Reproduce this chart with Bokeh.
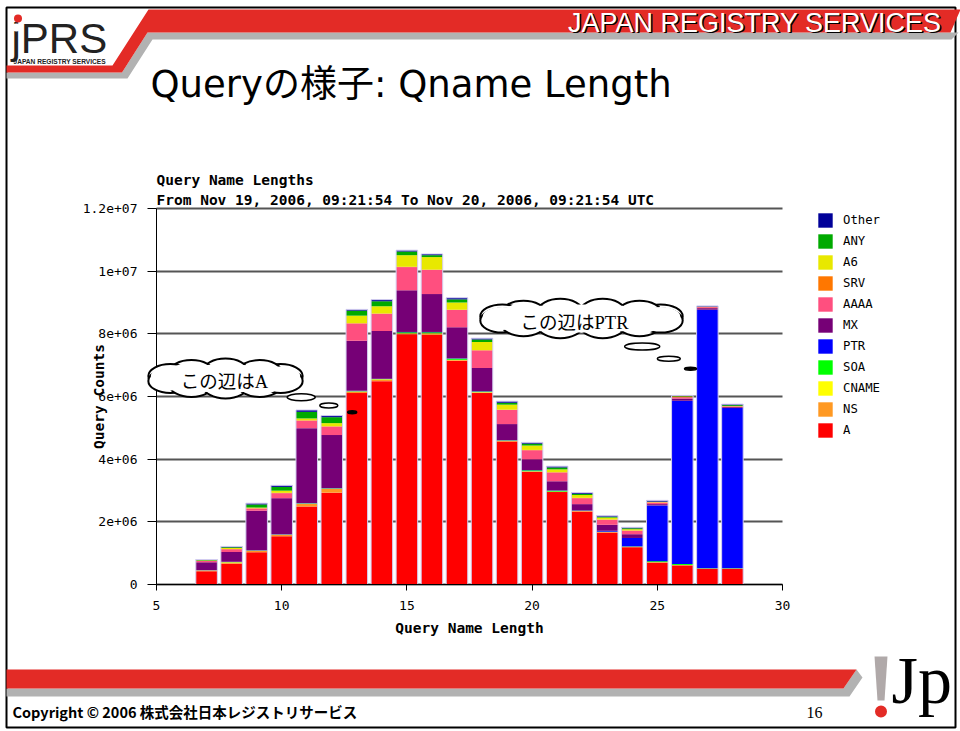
import numpy as np
from bokeh.plotting import figure
from bokeh.models import (Range1d, LinearAxis, FixedTicker, Grid, Legend, LegendItem,
                          ColumnDataSource)
from bokeh.core.properties import value
from bokeh.embed import file_html
from bokeh.resources import INLINE

# ---------------- data (values in millions of queries) ----------------
lengths = [7, 8, 9, 10, 11, 12, 13, 14, 15, 16, 17, 18, 19, 20, 21, 22, 23, 24, 25, 26, 27, 28]
types = ["A", "NS", "CNAME", "SOA", "PTR", "MX", "AAAA", "SRV", "A6", "ANY", "Other"]
colors = ["#ff0000", "#ff9922", "#ffff00", "#00ff00", "#0000ff", "#760076",
          "#ff4f7f", "#ff7700", "#e8e800", "#00aa00", "#000099"]

A_vals = [0.42, 0.66, 1.03, 1.54, 2.49, 2.93, 6.11, 6.49, 7.99, 7.97, 7.14, 6.11, 4.56, 3.60, 2.95, 2.33, 1.66, 1.19, 0.70, 0.61, 0.50, 0.50]
NS_vals = [0.03, 0.04, 0.04, 0.04, 0.08, 0.12, 0.04, 0.05, 0.02, 0.04, 0.02, 0.02, 0.02, 0.01, 0.01, 0.01, 0.01, 0.01, 0.01, 0.01, 0.005, 0.005]
CNAME_vals = [0.005, 0.01, 0.01, 0.01, 0.01, 0.01, 0.01, 0.01, 0.01, 0.01, 0.01, 0.01, 0.01, 0.005, 0.005, 0.005, 0.005, 0.005, 0.005, 0.005, 0.005, 0.005]
SOA_vals = [0.003, 0.005, 0.005, 0.005, 0.01, 0.01, 0.01, 0.01, 0.03, 0.03, 0.04, 0.02, 0.01, 0.03, 0.03, 0.01, 0.01, 0.01, 0.03, 0.03, 0.01, 0.01]
PTR_vals = [0.005, 0.01, 0.01, 0.01, 0.01, 0.01, 0.01, 0.01, 0.01, 0.01, 0.01, 0.01, 0.01, 0.01, 0.01, 0.01, 0.03, 0.27, 1.78, 5.21, 8.25, 5.11]
MX_vals = [0.25, 0.31, 1.26, 1.15, 2.39, 1.69, 1.60, 1.52, 1.33, 1.21, 0.99, 0.74, 0.51, 0.34, 0.29, 0.20, 0.19, 0.12, 0.04, 0.07, 0.05, 0.03]
AAAA_vals = [0.04, 0.09, 0.07, 0.16, 0.24, 0.27, 0.55, 0.55, 0.74, 0.77, 0.55, 0.56, 0.45, 0.29, 0.28, 0.19, 0.16, 0.11, 0.05, 0.04, 0.03, 0.02]
SRV_vals = [0.005, 0.01, 0.01, 0.01, 0.01, 0.01, 0.01, 0.01, 0.01, 0.01, 0.01, 0.01, 0.01, 0.01, 0.01, 0.01, 0.01, 0.01, 0.01, 0.02, 0.01, 0.01]
A6_vals = [0.01, 0.03, 0.02, 0.07, 0.06, 0.10, 0.24, 0.23, 0.37, 0.40, 0.23, 0.26, 0.16, 0.14, 0.09, 0.09, 0.06, 0.04, 0.01, 0.01, 0.005, 0.005]
ANY_vals = [0.01, 0.02, 0.10, 0.12, 0.21, 0.19, 0.16, 0.16, 0.12, 0.06, 0.10, 0.08, 0.06, 0.06, 0.06, 0.04, 0.03, 0.03, 0.01, 0.01, 0.005, 0.03]
Other_vals = [0.02, 0.03, 0.04, 0.05, 0.06, 0.05, 0.04, 0.05, 0.04, 0.04, 0.05, 0.04, 0.05, 0.04, 0.04, 0.04, 0.03, 0.03, 0.04, 0.02, 0.02, 0.03]

series = [A_vals, NS_vals, CNAME_vals, SOA_vals, PTR_vals, MX_vals, AAAA_vals,
          SRV_vals, A6_vals, ANY_vals, Other_vals]

xtick_values = [5, 10, 15, 20, 25, 30]
ytick_values = [0, 2000000, 4000000, 6000000, 8000000, 10000000, 12000000]
ytick_labels = ["0", "2e+06", "4e+06", "6e+06", "8e+06", "1e+07", "1.2e+07"]

chart_title = "Query Name Lengths"
chart_subtitle = "From Nov 19, 2006, 09:21:54 To Nov 20, 2006, 09:21:54 UTC"
x_label = "Query Name Length"
y_label = "Query Counts"
slide_title = "Queryの様子: Qname Length"
header_text = "JAPAN REGISTRY SERVICES"
logo_text = "jPRS"
logo_sub = "JAPAN REGISTRY SERVICES"
note_a = "この辺はA"
note_ptr = "この辺はPTR"
copyright_text = "Copyright © 2006 株式会社日本レジストリサービス"
page_number = "16"
jp_text = "Jp"

# ---------------- layout (page pixels -> figure pixels) ----------------
W, H = 960, 731


def X(px):
    return px


def Y(py):
    return H - py


p = figure(width=W, height=H, x_range=Range1d(0, W), y_range=Range1d(0, H),
           x_axis_type=None, y_axis_type=None, toolbar_location=None,
           output_backend="svg", min_border=0, title=None)
p.outline_line_color = None
p.background_fill_color = "white"
p.border_fill_color = "white"

# chart coordinate system mapped onto the page
PX5, PX30, PY0, PYTOP = 156, 782, 584, 208
sx = (30 - 5) / (PX30 - PX5)
sy = 12000000 / (PY0 - PYTOP)
p.extra_x_ranges = {"qx": Range1d(5 - X(PX5) * sx, 30 + (W - X(PX30)) * sx)}
p.extra_y_ranges = {"qy": Range1d(0 - Y(PY0) * sy, 12000000 + (H - Y(PYTOP)) * sy)}


def T(xp, yp, txt, font, size, style="normal", color="black", align="left",
      baseline="middle", angle=0.0, level="glyph"):
    p.text(x=[X(xp)], y=[Y(yp)], text=[txt], text_font=value(font), text_font_size=size,
           text_font_style=style, text_color=color, text_align=align,
           text_baseline=baseline, angle=angle, level=level)


def poly(pts, color, level="glyph"):
    p.patch([X(a) for a, b in pts], [Y(b) for a, b in pts], fill_color=color,
            line_color=None, level=level)


# ---------------- slide decoration ----------------
# slide frame
p.quad(left=[X(6)], right=[X(955)], bottom=[Y(727)], top=[Y(7)], fill_color=None,
       line_color="black", line_width=2)

poly([(6, 72), (121.5, 72), (147, 32), (958, 32), (951, 39), (152, 39), (127, 78), (6, 78)], "#b2b2b2")
poly([(6, 65), (112, 65), (148, 9), (960, 9), (950, 32), (147, 32), (121.5, 72), (6, 72)], "#e32b26")
T(942.5, 23.5, header_text, "Liberation Sans", "27px", color="black", align="right")
T(941, 22, header_text, "Liberation Sans", "27px", color="white", align="right")

T(11, 38, logo_text, "Liberation Sans", "42px", color="#222222")
p.ellipse(x=[X(15.8)], y=[Y(27)], width=8, height=8, fill_color="white", line_color=None)
p.ellipse(x=[X(17.5)], y=[Y(18)], width=8, height=8, fill_color="#e32b26", line_color=None)
T(13, 61, logo_sub, "Liberation Sans", "6.6px", style="bold", color="#222222")

T(150, 84, slide_title, "DejaVu Sans, Noto Sans CJK JP", "37px")

# footer
poly([(6, 688), (843, 688), (856, 669), (862, 677), (849, 696), (6, 696)], "#b2b2b2")
poly([(6, 669), (856, 669), (843, 688), (6, 688)], "#e32b26")
poly([(874, 656), (887, 656), (884, 700), (877, 700)], "#b0a9a9")
p.ellipse(x=[X(880.5)], y=[Y(711)], width=12, height=12, fill_color="#e32b26", line_color=None)
T(891, 679, jp_text, "Liberation Serif", "68px")
T(12, 711, copyright_text, "Noto Sans CJK JP", "14.5px", style="bold")
T(806, 712, page_number, "Liberation Serif", "16px")

# ---------------- chart ----------------
data = {"x": lengths}
for t, arr in zip(types, series):
    data[t] = [v * 1e6 for v in arr]
src = ColumnDataSource(data)

yticker = FixedTicker(ticks=ytick_values)
ygrid = Grid(dimension=1, ticker=yticker, x_range_name="qx", y_range_name="qy",
             cross_bounds=(5, 30), grid_line_color="#555555", grid_line_width=2)
p.add_layout(ygrid)

bars = p.vbar_stack(types, x="x", width=0.86, fill_color=colors, line_color=None,
                    source=src, x_range_name="qx", y_range_name="qy")
totals = (np.sum(np.array(series), axis=0) * 1e6).tolist()
p.vbar(x=lengths, top=totals, width=0.86, fill_color=None, line_color="#d4cef0",
       line_width=1, x_range_name="qx", y_range_name="qy")

outline = p.vbar(x=[], top=[], width=0.5, fill_color=None, line_color="#333333",
                 line_width=1, x_range_name="qx", y_range_name="qy")

xaxis = LinearAxis(x_range_name="qx", y_range_name="qy", fixed_location=0, bounds=(5, 30),
                   ticker=FixedTicker(ticks=xtick_values), axis_label=x_label)
yaxis = LinearAxis(x_range_name="qx", y_range_name="qy", fixed_location=5,
                   bounds=(0, 12000000), ticker=yticker, axis_label=y_label,
                   major_label_overrides=dict(zip(ytick_values, ytick_labels)))
for ax in (xaxis, yaxis):
    ax.axis_line_color = "black"
    ax.axis_line_width = 1
    ax.major_tick_line_color = "black"
    ax.major_tick_in = 0
    ax.minor_tick_in = 0
    ax.minor_tick_out = 0
    ax.major_label_text_font = "DejaVu Sans Mono"
    ax.major_label_text_font_size = "13px"
    ax.major_label_text_color = "black"
    ax.axis_label_text_font = "DejaVu Sans Mono"
    ax.axis_label_text_font_style = "bold"
    ax.axis_label_text_font_size = "14.5px"
    ax.axis_label_text_color = "black"
xaxis.major_tick_out = 6
xaxis.major_label_standoff = 10
xaxis.axis_label_standoff = 7
yaxis.major_tick_out = 9
yaxis.major_label_standoff = 10
yaxis.axis_label_standoff = -27
p.add_layout(xaxis, "below")
p.add_layout(yaxis, "left")

T(156, 179, chart_title, "DejaVu Sans Mono", "14.5px", style="bold")
T(156, 199, chart_subtitle, "DejaVu Sans Mono", "14.5px", style="bold")

items = [LegendItem(label=t, renderers=[r, outline])
         for t, r in reversed(list(zip(types, bars)))]
legend = Legend(items=items, location=(X(816), Y(439)), glyph_width=18, glyph_height=18,
                label_height=18, label_width=10, spacing=3, padding=0, margin=0,
                label_standoff=9, border_line_color=None, background_fill_alpha=0,
                label_text_font="DejaVu Sans Mono", label_text_font_size="12.3px",
                label_text_color="black")
p.add_layout(legend)


# ---------------- thought clouds ----------------
def cloud(cx, cy, a, b, n):
    bw, bh = 22.0, 12.0
    t = np.linspace(0, 2 * np.pi, n, endpoint=False) + np.pi / n
    xs = X(cx) + (a - bw) * np.cos(t)
    ys = Y(cy) + (b - bh) * np.sin(t)
    p.ellipse(x=xs, y=ys, width=2 * bw, height=2 * bh, fill_color="white",
              line_color="black", line_width=2, level="overlay")
    p.ellipse(x=xs, y=ys, width=2 * bw - 5, height=2 * bh - 5, fill_color="white",
              line_color=None, level="overlay")
    p.ellipse(x=[X(cx)], y=[Y(cy)], width=2 * (a - 10), height=2 * (b - 6),
              fill_color="white", line_color=None, level="overlay")


def bubbles(pts):
    for (bx, by, w, h, fill) in pts:
        p.ellipse(x=[X(bx)], y=[Y(by)], width=w, height=h, fill_color=fill,
                  line_color="black", line_width=1.5, level="overlay")


cloud(225, 378, 80, 20, 10)
bubbles([(300.7, 396.7, 28, 7, "white"), (328.3, 405, 18, 5, "white"), (351.7, 411.7, 9, 3, "black")])
T(224, 381, note_a, "Liberation Serif, Noto Sans CJK JP", "18.5px", align="center", level="overlay")

cloud(581, 318, 104, 20, 12)
bubbles([(641.7, 346, 35, 7, "white"), (668.3, 358.3, 23, 5, "white"), (690, 368.3, 12, 3, "black")])
T(574, 322, note_ptr, "Liberation Serif, Noto Sans CJK JP", "18.5px", align="center", level="overlay")

open("out.html", "w").write(file_html(p, INLINE))
